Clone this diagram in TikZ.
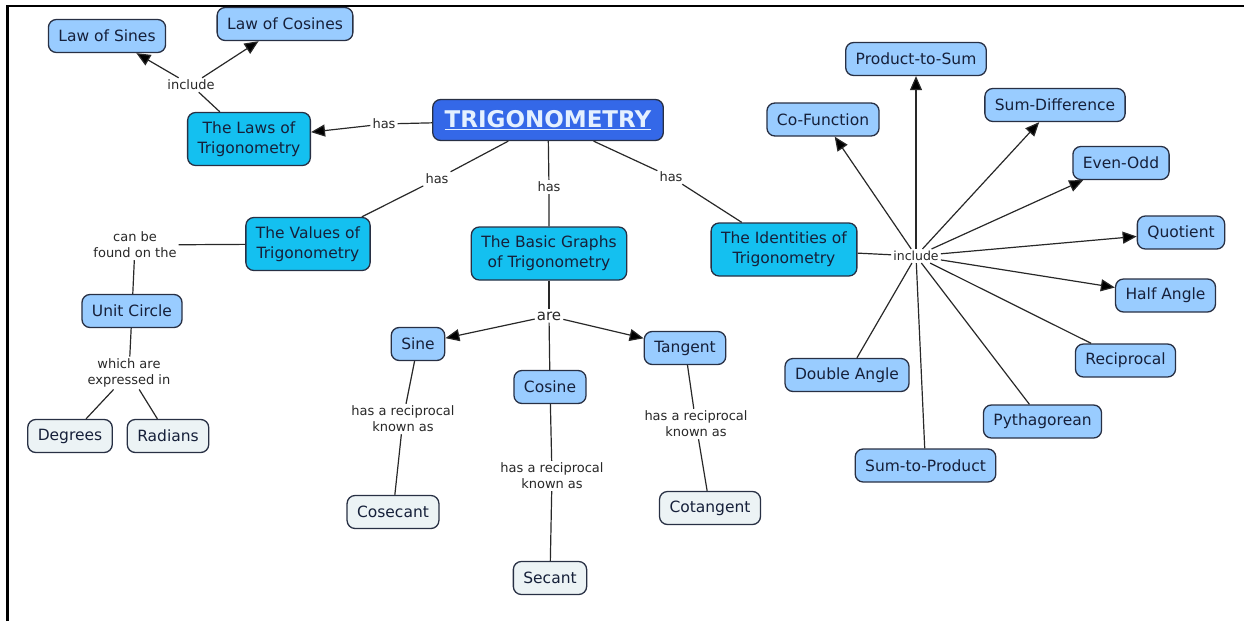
\documentclass[tikz,border=0pt]{standalone}
\usepackage{fontspec}
\setmainfont{DejaVu Sans}
\usetikzlibrary{arrows.meta}

\definecolor{trigblue}{RGB}{52,104,232}
\definecolor{trigink}{RGB}{228,240,255}
\definecolor{skyfill}{RGB}{20,192,240}
\definecolor{paleblue}{RGB}{153,204,255}
\definecolor{palegray}{RGB}{236,243,245}
\definecolor{edgeline}{RGB}{40,48,68}
\definecolor{linkgray}{RGB}{40,40,40}
\definecolor{conceptink}{RGB}{22,32,58}

\begin{document}
\begin{tikzpicture}[x=1pt,y=-1pt,
  concept/.style={draw=edgeline,line width=1.3pt,rounded corners=8pt,fill=paleblue,
    text=conceptink,font=\fontsize{15.5}{20}\selectfont,align=center,
    inner xsep=10pt,inner ysep=9pt,minimum height=33pt},
  topic/.style={concept,fill=skyfill},
  leaf/.style={concept,fill=palegray},
  phrase/.style={fill=white,text=linkgray,font=\fontsize{13}{16}\selectfont,
    align=center,inner sep=2pt},
  link/.style={draw=linkgray,line width=1.2pt},
  arr/.style={link,-{Triangle[length=14pt,width=12pt,fill=black]}}]
  \useasboundingbox (0,0) rectangle (1244,621);
  \draw[line width=2.2pt] (7.5,621) -- (7.5,6) -- (1244,6);   % frame, left and top only

  % main concept
  \node[concept,fill=trigblue,text=trigink,font=\fontsize{23}{26}\bfseries,
    inner xsep=12pt,inner ysep=10pt,minimum height=41pt] (trig) at (548,120)
    {\underline{TRIGONOMETRY}};

  % laws branch
  \node[phrase] (haslaws) at (384,124) {has};
  \node[topic] (laws) at (249,139) {The Laws of\\Trigonometry};
  \node[phrase] (inclaws) at (191,85) {include};
  \node[concept] (sines) at (107,36) {Law of Sines};
  \node[concept] (cosines) at (285,24) {Law of Cosines};

  % values branch
  \node[phrase] (hasvals) at (437,179) {has};
  \node[topic] (values) at (308,244) {The Values of\\Trigonometry};
  \node[phrase] (found) at (135,245) {can be\\found on the};
  \node[concept] (unit) at (132,311) {Unit Circle};
  \node[phrase] (expressed) at (129,373) {which are\\expressed in};
  \node[leaf] (degrees) at (70,436) {Degrees};
  \node[leaf] (radians) at (168,436) {Radians};

  % graphs branch
  \node[phrase] (hasgraphs) at (549,187) {has};
  \node[topic] (graphs) at (549,253.5) {The Basic Graphs\\of Trigonometry};
  \node[phrase,font=\fontsize{15}{16}\selectfont] (are) at (549,316) {are};
  \node[concept] (sine) at (418,344) {Sine};
  \node[concept] (cosine) at (550,387) {Cosine};
  \node[concept] (tangent) at (685,348) {Tangent};
  \node[phrase] (recsine) at (403,419) {has a reciprocal\\known as};
  \node[phrase] (reccos) at (552,476) {has a reciprocal\\known as};
  \node[phrase] (rectan) at (696,424) {has a reciprocal\\known as};
  \node[leaf] (cosec) at (393,512) {Cosecant};
  \node[leaf] (secant) at (550,578) {Secant};
  \node[leaf] (cotan) at (710,508) {Cotangent};

  % identities branch
  \node[phrase] (hasids) at (671,177) {has};
  \node[topic] (idents) at (784,249.5) {The Identities of\\Trigonometry};
  \node[phrase,font=\fontsize{12.5}{14}\selectfont] (incids) at (916,256) {include};
  \node[concept] (prodsum) at (916,59) {Product-to-Sum};
  \node[concept] (cofunc) at (823,119.5) {Co-Function};
  \node[concept] (sumdiff) at (1055,105) {Sum-Difference};
  \node[concept] (evenodd) at (1121,163) {Even-Odd};
  \node[concept] (quot) at (1181,232.5) {Quotient};
  \node[concept] (halfang) at (1165.5,295.5) {Half Angle};
  \node[concept] (recip) at (1125.5,360.5) {Reciprocal};
  \node[concept] (pythag) at (1042.5,421.5) {Pythagorean};
  \node[concept] (sumprod) at (925.5,465.5) {Sum-to-Product};
  \node[concept] (dblang) at (847,375) {Double Angle};

  % connectors
  \draw[link] (trig) -- (haslaws);
  \draw[arr] (haslaws) -- (laws);
  \draw[link] (laws) -- (inclaws);
  \draw[arr] (inclaws) -- (sines);
  \draw[arr] (inclaws) -- (cosines);

  \draw[link] (trig) -- (hasvals) -- (values);
  \draw[link] (values) -- (found) -- (unit);
  \draw[link] (unit) -- (expressed);
  \draw[link] (expressed) -- (degrees);
  \draw[link] (expressed) -- (radians);

  \draw[link] (trig) -- (hasgraphs) -- (graphs);
  \draw[link] (graphs) -- (are);
  \draw[arr] (are) -- (sine);
  \draw[arr] (are) -- (tangent);
  \draw[link] (are) -- (cosine);
  \draw[link] (sine) -- (recsine) -- (cosec);
  \draw[link] (cosine) -- (reccos) -- (secant);
  \draw[link] (tangent) -- (rectan) -- (cotan);

  \draw[link] (trig) -- (hasids) -- (idents);
  \draw[link] (idents) -- (incids);
  \foreach \t in {prodsum,cofunc,sumdiff,evenodd,quot,halfang}
    \draw[arr] (incids) -- (\t);
  \foreach \t in {recip,pythag,sumprod,dblang}
    \draw[link] (incids) -- (\t);
\end{tikzpicture}
\end{document}
